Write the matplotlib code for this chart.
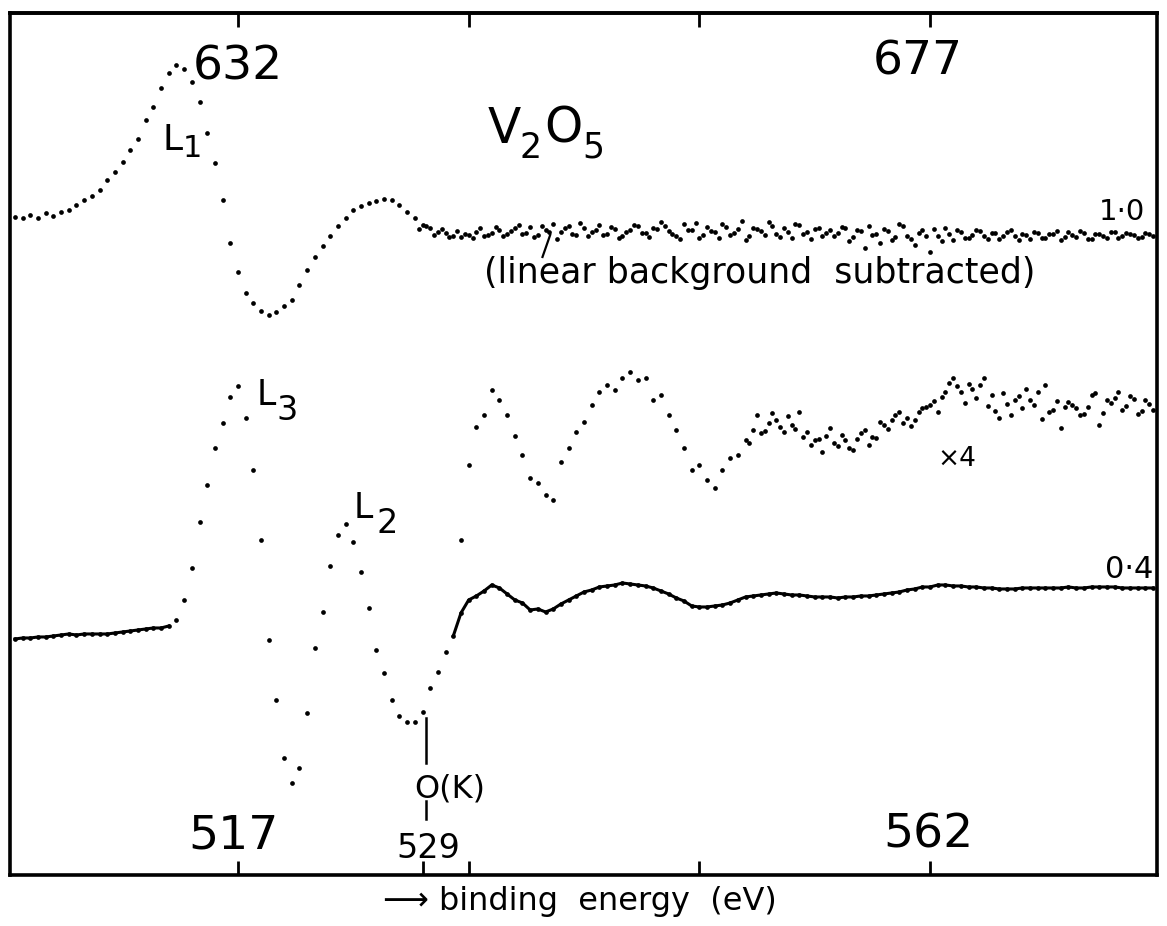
import numpy as np
import matplotlib.pyplot as plt

# energy channels of the recorded spectra (lower scale, eV)
E_START = 502.5
E_STEP = 0.5
TOP_SHIFT = 115          # upper scale = lower scale + 115 eV

# V L1 edge, upper curve (scale 1.0, linear background subtracted)
l1_signal = [
    65.8, 65.7, 66.0, 65.7, 66.2, 65.9, 66.3, 66.5, 67.0, 67.5,
    67.9, 68.5, 69.5, 70.3, 71.3, 72.5, 73.6, 75.5, 76.8, 78.7,
    80.2, 81.0, 80.6, 79.3, 77.3, 74.2, 71.2, 67.5, 63.2, 60.3,
    58.2, 57.2, 56.4, 56.0, 56.3, 56.9, 57.5, 59.0, 60.5, 61.8,
    62.9, 63.9, 64.9, 65.7, 66.5, 66.9, 67.2, 67.4, 67.6, 67.5,
    67.0, 66.3, 65.7, 65.0, 64.7, 64.3, 64.2, 63.9, 63.8, 64.0,
    64.3, 63.9, 64.2, 64.5, 64.1, 64.7, 64.1, 64.8, 64.0, 64.5,
    65.1, 64.3, 64.9, 64.0, 64.7, 64.3, 65.0, 64.1, 64.6, 63.9,
    64.5, 64.9, 64.2, 64.7, 65.3, 64.4, 63.9, 65.1, 64.5, 63.7,
    64.8, 64.3, 65.1, 64.0, 64.6, 63.5, 64.7, 64.4, 65.3, 64.1,
    64.7, 63.7, 65.0, 64.3, 64.6, 63.9, 64.5, 64.2, 64.7, 63.8,
    64.4, 64.9, 64.1, 64.6, 63.5, 65.1, 63.9, 63.0, 64.5, 62.3,
    63.9, 64.7, 63.5, 64.3, 63.7, 64.5, 63.9, 64.2, 63.6, 64.3,
    63.9, 64.1, 63.6, 64.2, 63.7, 64.1, 63.5, 64.3, 63.8, 64.2,
    63.6, 64.1, 63.7, 64.3, 63.9, 64.1, 63.7, 64.2, 63.9,
]
# extra dots read between channels in the noisy flat part (from channel 52.5)
L1_HALF_FIRST = 52.5
l1_half_signal = [
    64.6, 64.9, 64.0, 64.6, 63.8, 64.4, 64.1, 63.7, 64.7, 64.0,
    64.8, 63.9, 64.4, 65.0, 64.2, 63.8, 64.9, 64.3, 63.6, 64.7,
    64.1, 65.2, 63.9, 64.5, 64.0, 64.8, 63.7, 64.3, 65.0, 64.2,
    63.8, 64.6, 64.9, 64.1, 63.6, 64.5, 65.2, 64.0, 64.4, 63.7,
    64.8, 64.2, 65.4, 63.9, 64.6, 64.0, 64.9, 63.8, 64.3, 65.1,
    64.1, 63.6, 64.7, 64.2, 63.9, 64.8, 63.4, 64.5, 62.7, 64.0,
    63.2, 64.4, 63.8, 64.9, 63.6, 64.2, 63.9, 64.6, 63.4, 64.1,
    64.5, 63.7, 64.0, 64.4, 63.6, 64.2, 63.9, 64.5, 63.5, 64.0,
    64.3, 63.7, 64.1, 64.4, 63.8, 64.0, 64.4, 63.6, 64.1, 63.9,
    64.3, 63.7, 64.2, 64.0, 63.8, 64.1,
]

# V L2,3 + O K, lower curve (scale 0.4)
l23_signal = [
    23.6, 23.7, 23.7, 23.8, 23.8, 23.9, 24.0, 24.1, 24.0, 24.1,
    24.1, 24.1, 24.1, 24.2, 24.3, 24.4, 24.5, 24.6, 24.7, 24.7,
    24.9, 25.5, 27.5, 30.7, 35.3, 39.0, 42.7, 45.2, 47.8, 48.9,
    45.7, 40.5, 33.5, 23.5, 17.5, 11.7, 9.2, 10.7, 16.2, 22.7,
    26.3, 30.9, 34.0, 35.1, 33.3, 30.3, 26.7, 22.5, 20.2, 17.5,
    15.9, 15.3, 15.3, 16.3, 18.7, 20.3, 22.3, 23.9, 26.2, 27.5,
    27.9, 28.4, 29.0, 28.7, 28.1, 27.5, 27.2, 26.5, 26.6, 26.3,
    26.6, 27.1, 27.5, 27.9, 28.3, 28.5, 28.8, 28.9, 29.0, 29.2,
    29.1, 29.0, 28.9, 28.7, 28.4, 28.1, 27.7, 27.4, 26.9, 26.8,
    26.8, 26.9, 27.0, 27.2, 27.5, 27.8, 27.9, 28.0, 28.1, 28.2,
    28.1, 28.0, 28.0, 27.9, 27.8, 27.8, 27.8, 27.7, 27.8, 27.8,
    27.9, 27.9, 28.0, 28.1, 28.2, 28.3, 28.5, 28.6, 28.8, 28.8,
    29.0, 29.0, 28.9, 28.9, 28.8, 28.8, 28.7, 28.7, 28.6, 28.6,
    28.6, 28.7, 28.7, 28.7, 28.7, 28.7, 28.7, 28.8, 28.7, 28.7,
    28.8, 28.8, 28.8, 28.8, 28.7, 28.7, 28.7, 28.7, 28.7,
]

# O K region magnified x4, starts at channel 58
X4_FIRST = 58
x4_signal = [
    33.5, 41.0, 44.8, 46.0, 48.5, 47.5, 46.0, 43.9, 42.0, 39.7,
    39.2, 38.0, 37.5, 41.3, 42.7, 44.3, 45.3, 47.0, 48.3, 49.0,
    48.5, 49.7, 50.3, 49.5, 49.7, 47.5, 48.0, 46.0, 44.5, 42.7,
    40.5, 41.0, 39.5, 38.7, 40.5, 41.7, 42.0, 43.5, 44.5, 44.2,
    45.2, 45.5, 44.3, 45.0, 46.3, 44.3, 43.5, 42.3, 44.7, 42.9,
    43.5, 42.5, 44.2, 43.0, 43.7, 45.0, 45.5, 46.3, 45.7, 45.5,
    46.7, 47.0, 46.3, 48.3, 49.7, 48.3, 49.1, 47.7, 49.7, 48.0,
    45.7, 47.1, 47.5, 46.7, 47.5, 48.3, 49.0, 46.5, 44.7, 47.3,
    46.7, 46.1, 48.0, 45.0, 47.5, 47.7, 46.5, 47.9, 46.1, 47.5,
    46.5,
]
X4_HALF_FIRST = 95.5
x4_half_signal = [
    43.2, 46.0, 44.4, 46.2, 44.8, 45.9, 44.6, 43.8, 43.0, 43.6,
    43.9, 43.2, 44.0, 42.7, 43.6, 44.5, 43.8, 45.3, 44.6, 46.0,
    45.2, 44.9, 46.3, 46.8, 47.4, 47.8, 49.2, 48.9, 47.2, 48.6,
    49.0, 46.9, 46.4, 48.2, 46.0, 47.9, 48.6, 47.0, 45.6, 46.3,
    47.4, 46.8, 47.0, 46.0, 46.8, 48.2, 46.2, 47.2, 48.3, 46.9,
    47.6, 46.4, 47.1,
]

bottom_ticks = [517, 529, 532, 547, 562]
top_ticks = [632, 647, 662, 677]
O_K_EDGE = 529.2


def channel_energy(first, n):
    return E_START + E_STEP * (first + np.arange(n))


energy = channel_energy(0, len(l1_signal))
energy_l1_half = channel_energy(L1_HALF_FIRST, len(l1_half_signal))
energy_x4 = channel_energy(X4_FIRST, len(x4_signal))
energy_x4_half = channel_energy(X4_HALF_FIRST, len(x4_half_signal))

fig = plt.figure(figsize=(11.67, 9.26), dpi=100)
ax = fig.add_axes([0.0086, 0.0551, 0.9829, 0.9309])
ax.set_xlim(502.18, 576.76)
ax.set_ylim(0, 86.2)

dot = dict(ls="none", marker="o", ms=3.4, color="black", mec="none")
ax.plot(energy, l1_signal, **dot)
ax.plot(energy_l1_half, l1_half_signal, **dot)
ax.plot(energy, l23_signal, **dot)
ax.plot(energy_x4, x4_signal, **dot)
ax.plot(energy_x4_half, x4_half_signal, **dot)

# the flat parts of the 0.4 curve print as a continuous trace
l23 = np.array(l23_signal)
flat_left = energy < 513
flat_right = energy > 530.5
ax.plot(energy[flat_left], l23[flat_left], color="black", lw=2.2)
ax.plot(energy[flat_right], l23[flat_right], color="black", lw=2.2)

for s in ax.spines.values():
    s.set_linewidth(2.6)
ax.set_yticks([])
ax.set_xticks(bottom_ticks)
ax.tick_params(axis="x", direction="in", length=10, width=2, labelbottom=False)
top = ax.secondary_xaxis("top", functions=(lambda e: e + TOP_SHIFT, lambda e: e - TOP_SHIFT))
top.set_xticks(top_ticks)
top.tick_params(direction="in", length=10, width=2, labeltop=False)
top.spines["top"].set_linewidth(2.6)

# scale numbers, written inside the frame
ax.text(516.7, 2.6, "517", fontsize=34, ha="center", va="baseline")
ax.text(561.9, 2.7, "562", fontsize=34, ha="center", va="baseline")
ax.text(517.0, 79.5, "632", fontsize=34, ha="center", va="baseline")
ax.text(561.2, 80.0, "677", fontsize=34, ha="center", va="baseline")

# O(K) marker
ax.plot([O_K_EDGE, O_K_EDGE], [15.7, 11.2], color="black", lw=1.8)
ax.plot([O_K_EDGE, O_K_EDGE], [7.4, 5.6], color="black", lw=1.8)
ax.text(530.8, 7.7, "O(K)", fontsize=23, ha="center", va="baseline")
ax.text(529.4, 1.7, "529", fontsize=24, ha="center", va="baseline")

# edge labels with large lowered subscripts
ax.text(512.1, 72.5, "L", fontsize=26, va="baseline")
ax.text(513.4, 71.8, "1", fontsize=22, va="baseline")
ax.text(518.2, 47.0, "L", fontsize=25, va="baseline")
ax.text(519.5, 45.5, "3", fontsize=24, va="baseline")
ax.text(524.5, 35.7, "L", fontsize=25, va="baseline")
ax.text(526.0, 34.2, "2", fontsize=24, va="baseline")

ax.text(533.2, 73.2, "V", fontsize=35, va="baseline")
ax.text(535.3, 71.7, "2", fontsize=25, va="baseline")
ax.text(536.9, 73.2, "O", fontsize=35, va="baseline")
ax.text(539.4, 71.7, "5", fontsize=25, va="baseline")

ax.plot([537.3, 536.8], [64.0, 61.8], color="black", lw=1.6)
ax.text(533.0, 59.2, "(linear background  subtracted)", fontsize=25, va="baseline")

ax.text(573.0, 65.5, "1·0", fontsize=21, va="baseline")
ax.text(573.4, 29.7, "0·4", fontsize=22, va="baseline")
ax.text(562.5, 40.9, "×4", fontsize=19, va="baseline")

fig.text(0.497, 0.017, "⟶ binding  energy  (eV)", fontsize=23, ha="center", va="baseline")

fig.savefig("out.png", dpi=100)
